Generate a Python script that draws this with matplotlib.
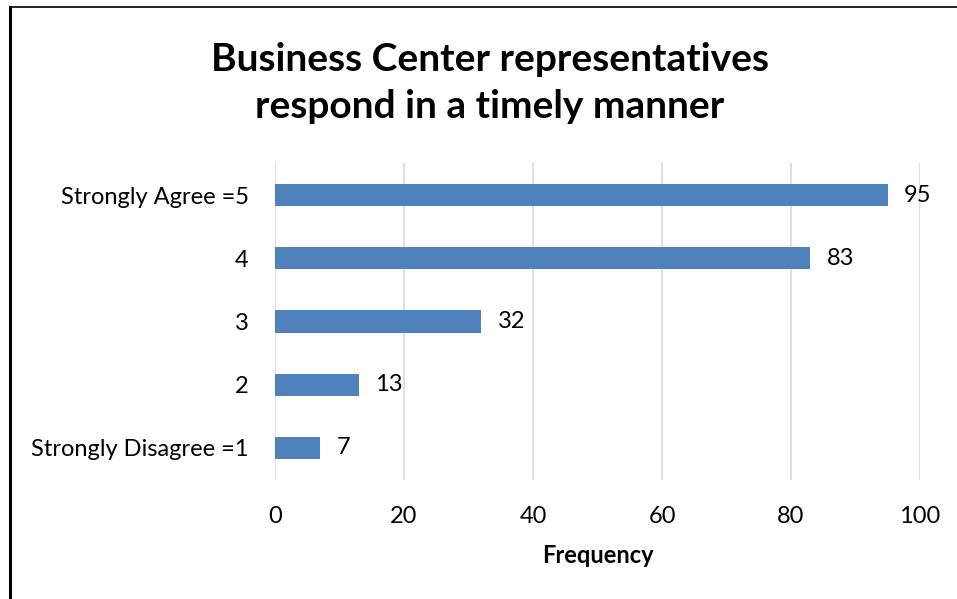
import matplotlib
matplotlib.use("Agg")
import matplotlib.pyplot as plt
from matplotlib.lines import Line2D

categories = ["Strongly Disagree =1", "2", "3", "4", "Strongly Agree =5"]
counts = [7, 13, 32, 83, 95]
xticks = [0, 20, 40, 60, 80, 100]

plt.rcParams["font.family"] = ["Lato", "DejaVu Sans"]

W, H = 957, 599
fig = plt.figure(figsize=(W / 100, H / 100), dpi=100)
ax = fig.add_axes([275 / W, 1 - 479.6 / H, 645 / W, 316.2 / H])

ypos = range(len(categories))
ax.barh(ypos, counts, height=0.35, color="#4F81BD", zorder=3)
for y, v in zip(ypos, counts):
    ax.text(v + 2.5, y, str(v), va="center", ha="left", fontsize=17, color="#000000")

ax.set_xlim(0, 100)
ax.set_ylim(-0.5, len(categories) - 0.5)
ax.set_xticks(xticks)
ax.set_yticks(list(ypos))
ax.set_yticklabels(categories)
ax.tick_params(axis="both", length=0, labelsize=17, colors="#000000")
ax.tick_params(axis="x", pad=19)
ax.tick_params(axis="y", pad=19)
ax.grid(axis="x", color="#D9D9D9", linewidth=1.2, zorder=0)
for s in ax.spines.values():
    s.set_visible(False)

ax.set_xlabel("Frequency", fontsize=17, fontweight="bold", labelpad=12)

fig.text(490 / W, 1 - 83 / H, "Business Center representatives\nrespond in a timely manner",
         ha="center", va="center", fontsize=28, fontweight="bold", linespacing=1.43)

# frame lines along the left and top edges
fig.add_artist(Line2D([10 / W, 10 / W], [0, 1 - 7 / H], color="black", linewidth=2.2,
                      transform=fig.transFigure))
fig.add_artist(Line2D([10 / W, 1], [1 - 7 / H, 1 - 7 / H], color="black", linewidth=1.2,
                      transform=fig.transFigure))

fig.savefig("out.png", dpi=100)
